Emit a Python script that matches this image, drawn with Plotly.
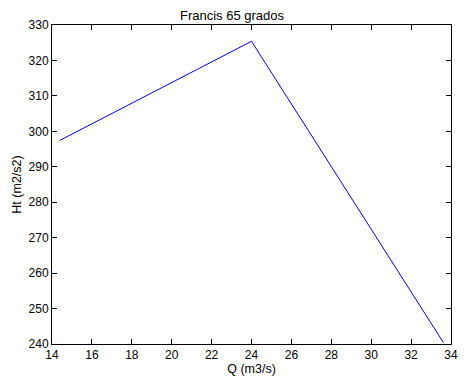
import plotly.graph_objects as go

# Caudal Q (m3/s) y altura teórica Ht (m2/s2)
q_vals = [14.38, 24.0, 33.62]
ht_vals = [297.4, 325.4, 240.4]

x_ticks = list(range(14, 35, 2))
y_ticks = list(range(240, 331, 10))

FONT = "Liberation Sans, Arial"

fig = go.Figure()
fig.add_trace(go.Scatter(
    x=q_vals, y=ht_vals, mode="lines",
    line=dict(color="#0000ff", width=1),
    showlegend=False,
))

axis_common = dict(
    showline=True, linecolor="black", linewidth=1,
    mirror="ticks", ticks="inside", ticklen=5, tickcolor="black",
    showgrid=False, zeroline=False,
    tickfont=dict(family=FONT, size=12, color="black"),
)

fig.update_layout(
    width=464, height=380,
    margin=dict(l=52, r=6, t=25, b=36),
    paper_bgcolor="white", plot_bgcolor="white",
    font=dict(family=FONT, size=12, color="black"),
    title=dict(text="Francis 65 grados", x=0.5, xanchor="center",
               y=1 - 15 / 380, yanchor="middle",
               font=dict(family=FONT, size=13, color="black")),
    xaxis=dict(range=[14, 34], tickvals=x_ticks, ticklabeloverflow="allow",
               title=dict(text="Q (m3/s)", standoff=1,
                          font=dict(family=FONT, size=12.5, color="black")),
               **axis_common),
    yaxis=dict(range=[240, 330], tickvals=y_ticks,
               title=dict(text="Ht (m2/s2)", standoff=4,
                          font=dict(family=FONT, size=12.5, color="black")),
               **axis_common),
)

fig.write_html("out.html")
